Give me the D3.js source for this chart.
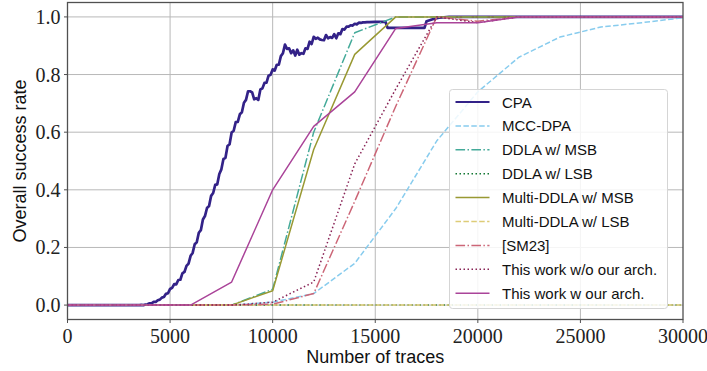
<!DOCTYPE html>
<html>
<head>
<meta charset="utf-8">
<script src="https://cdn.jsdelivr.net/npm/d3@7"></script>
<style>
  body { margin: 0; background: #fff; }
  svg { display: block; }
</style>
</head>
<body>
<div id="chart"></div>
<script>
// traces grid shared by the attack curves (every 2000 traces)
const traceSteps = [0, 2000, 4000, 6000, 8000, 10000, 12000, 14000, 16000, 18000, 20000, 22000, 24000, 26000, 28000, 30000];

const mccDpa     = [0, 0, 0, 0, 0, 0.01, 0.04, 0.145, 0.335, 0.57, 0.74, 0.86, 0.93, 0.965, 0.98, 0.997];
const ddlaMsb    = [0, 0, 0, 0, 0, 0.055, 0.60, 0.945, 1, 1, 1, 1, 1, 1, 1, 1];
const ddlaLsb    = [0, 0, 0, 0, 0, 0, 0, 0, 0, 0, 0, 0, 0, 0, 0, 0];
const multiMsb   = [0, 0, 0, 0, 0, 0.05, 0.54, 0.87, 1, 1, 1, 1, 1, 1, 1, 1];
const multiLsb   = [0, 0, 0, 0, 0, 0, 0, 0, 0, 0, 0, 0, 0, 0, 0, 0];
const sm23       = [0, 0, 0, 0, 0, 0.003, 0.04, 0.36, 0.69, 1, 0.985, 1, 1, 1, 1, 1];
const workNoArch = [0, 0, 0, 0, 0, 0.01, 0.08, 0.49, 0.75, 1, 0.98, 1, 1, 1, 1, 1];
const workArch   = [0, 0, 0, 0, 0.08, 0.40, 0.62, 0.74, 0.96, 0.98, 0.98, 1, 1, 1, 1, 1];

// CPA is measured every 100 traces between 3500 and 14700
const cpaStart = 3500;
const cpaNoisy = [
  0, 0.001, 0, 0.002, 0.003, 0.006, 0.006, 0.011, 0.011, 0.017,
  0.019, 0.026, 0.028, 0.039, 0.041, 0.056, 0.060, 0.073, 0.072, 0.087,
  0.088, 0.110, 0.115, 0.136, 0.144, 0.171, 0.181, 0.211, 0.218, 0.251,
  0.260, 0.297, 0.309, 0.337, 0.344, 0.379, 0.389, 0.417, 0.419, 0.455,
  0.471, 0.507, 0.511, 0.552, 0.558, 0.599, 0.605, 0.635, 0.636, 0.662,
  0.669, 0.702, 0.712, 0.742, 0.742, 0.738, 0.714, 0.718, 0.712, 0.748,
  0.752, 0.771, 0.772, 0.796, 0.799, 0.818, 0.814, 0.834, 0.834, 0.864,
  0.874, 0.904, 0.889, 0.891, 0.874, 0.884, 0.866, 0.886, 0.869, 0.874,
  0.872, 0.891, 0.889, 0.914, 0.906, 0.931, 0.924, 0.928, 0.922, 0.920,
  0.919, 0.937, 0.926, 0.930, 0.927, 0.940, 0.926, 0.943, 0.940, 0.958,
  0.956, 0.966, 0.966, 0.971, 0.970, 0.976, 0.974, 0.980, 0.979, 0.981,
  0.981, 0.982, 0.982
];
// tail of CPA: staircase plateau before reaching 1
const cpaTailX = [15000, 15500, 15600, 17400, 17500, 17800, 18100, 18600, 30000];
const cpaTailY = [0.983, 0.983, 0.962, 0.962, 0.985, 0.992, 0.997, 1, 1];

const xTicks = [0, 5000, 10000, 15000, 20000, 25000, 30000];
const yTicks = [0, 0.2, 0.4, 0.6, 0.8, 1.0];

const W = 707, H = 371;
const m = { left: 67.5, right: 24, top: 2.5, bottom: 51.5 };

const svg = d3.select("#chart").append("svg").attr("width", W).attr("height", H);

const x = d3.scaleLinear().domain([0, 30000]).range([m.left, W - m.right]);
const y = d3.scaleLinear().domain([-0.05, 1.05]).range([H - m.bottom, m.top]);

// grid
svg.append("g").selectAll("line").data(xTicks.slice(1, -1)).join("line")
  .attr("x1", d => x(d)).attr("x2", d => x(d))
  .attr("y1", y.range()[0]).attr("y2", y.range()[1])
  .attr("stroke", "#b8b8b8").attr("stroke-width", 1);
svg.append("g").selectAll("line").data(yTicks).join("line")
  .attr("y1", d => y(d)).attr("y2", d => y(d))
  .attr("x1", x.range()[0]).attr("x2", x.range()[1])
  .attr("stroke", "#b8b8b8").attr("stroke-width", 1);

// series
const cpaPts = cpaNoisy.map((v, i) => [cpaStart + i * 100, v]);
const cpaData = [[0, 0]].concat(cpaPts, cpaTailX.map((t, i) => [t, cpaTailY[i]]));
const zipSteps = vals => traceSteps.map((t, i) => [t, vals[i]]);

const series = [
  { name: "CPA", data: cpaData, color: "#332288", dash: null, w: 2.7 },
  { name: "MCC-DPA", data: zipSteps(mccDpa), color: "#88CCEE", dash: "5.5,2.4", w: 1.5 },
  { name: "DDLA w/ MSB", data: zipSteps(ddlaMsb), color: "#44AA99", dash: "9.6,2.4,1.5,2.4", w: 1.5 },
  { name: "DDLA w/ LSB", data: zipSteps(ddlaLsb), color: "#117733", dash: "1.5,2.5", w: 1.5 },
  { name: "Multi-DDLA w/ MSB", data: zipSteps(multiMsb), color: "#999933", dash: null, w: 1.5 },
  { name: "Multi-DDLA w/ LSB", data: zipSteps(multiLsb), color: "#DDCC77", dash: "5.5,2.4", w: 1.5 },
  { name: "[SM23]", data: zipSteps(sm23), color: "#CC6677", dash: "9.6,2.4,1.5,2.4", w: 1.5 },
  { name: "This work w/o our arch.", data: zipSteps(workNoArch), color: "#882255", dash: "1.5,2.5", w: 1.5 },
  { name: "This work w our arch.", data: zipSteps(workArch), color: "#AA4499", dash: null, w: 1.5 }
];

const line = d3.line().x(d => x(d[0])).y(d => y(d[1]));

svg.append("defs").append("clipPath").attr("id", "clip")
  .append("rect").attr("x", m.left).attr("y", m.top)
  .attr("width", W - m.left - m.right).attr("height", H - m.top - m.bottom);

svg.append("g").attr("clip-path", "url(#clip)")
  .selectAll("path").data(series).join("path")
  .attr("d", d => line(d.data))
  .attr("fill", "none")
  .attr("stroke", d => d.color)
  .attr("stroke-width", d => d.w)
  .attr("stroke-dasharray", d => d.dash)
  .attr("stroke-linejoin", "round");

// frame
svg.append("rect")
  .attr("x", m.left).attr("y", m.top)
  .attr("width", W - m.left - m.right).attr("height", H - m.top - m.bottom)
  .attr("fill", "none").attr("stroke", "#505050").attr("stroke-width", 1.3);

// ticks + labels
const tickFont = "'Liberation Serif', 'DejaVu Serif', serif";
const xAxis = svg.append("g");
xTicks.forEach(t => {
  xAxis.append("line").attr("x1", x(t)).attr("x2", x(t))
    .attr("y1", H - m.bottom).attr("y2", H - m.bottom + 3.5).attr("stroke", "#505050");
  xAxis.append("text").attr("x", x(t)).attr("y", H - m.bottom + 23)
    .attr("text-anchor", "middle").style("font-family", tickFont).style("font-size", "20px")
    .attr("fill", "#222").text(t);
});
const yAxis = svg.append("g");
yTicks.forEach(t => {
  yAxis.append("line").attr("x1", m.left - 3.5).attr("x2", m.left)
    .attr("y1", y(t)).attr("y2", y(t)).attr("stroke", "#505050");
  yAxis.append("text").attr("x", m.left - 7).attr("y", y(t) + 7)
    .attr("text-anchor", "end").style("font-family", tickFont).style("font-size", "20px")
    .attr("fill", "#222").text(d3.format(".1f")(t));
});

const sans = "'Liberation Sans', Arial, sans-serif";
svg.append("text").attr("x", (x.range()[0] + x.range()[1]) / 2).attr("y", 363)
  .attr("text-anchor", "middle").style("font-family", sans).style("font-size", "18px")
  .attr("fill", "#111").text("Number of traces");
svg.append("text").attr("transform", `translate(26,${(y.range()[0] + y.range()[1]) / 2}) rotate(-90)`)
  .attr("text-anchor", "middle").style("font-family", sans).style("font-size", "18px")
  .attr("fill", "#111").text("Overall success rate");

// legend
const lg = svg.append("g").attr("transform", "translate(449.5,89.5)");
lg.append("rect").attr("width", 218).attr("height", 219).attr("rx", 3)
  .attr("fill", "#fff").attr("fill-opacity", 0.85).attr("stroke", "#d5d5d5");
series.forEach((s, i) => {
  const yy = 12.5 + i * 23.9;
  lg.append("line").attr("x1", 6).attr("x2", 40).attr("y1", yy).attr("y2", yy)
    .attr("stroke", s.color).attr("stroke-width", s.name === "CPA" ? 1.8 : 1.5)
    .attr("stroke-dasharray", s.dash);
  lg.append("text").attr("x", 52.5).attr("y", yy + 5.5)
    .style("font-family", sans).style("font-size", "15px").attr("fill", "#111").text(s.name);
});
</script>
</body>
</html>
